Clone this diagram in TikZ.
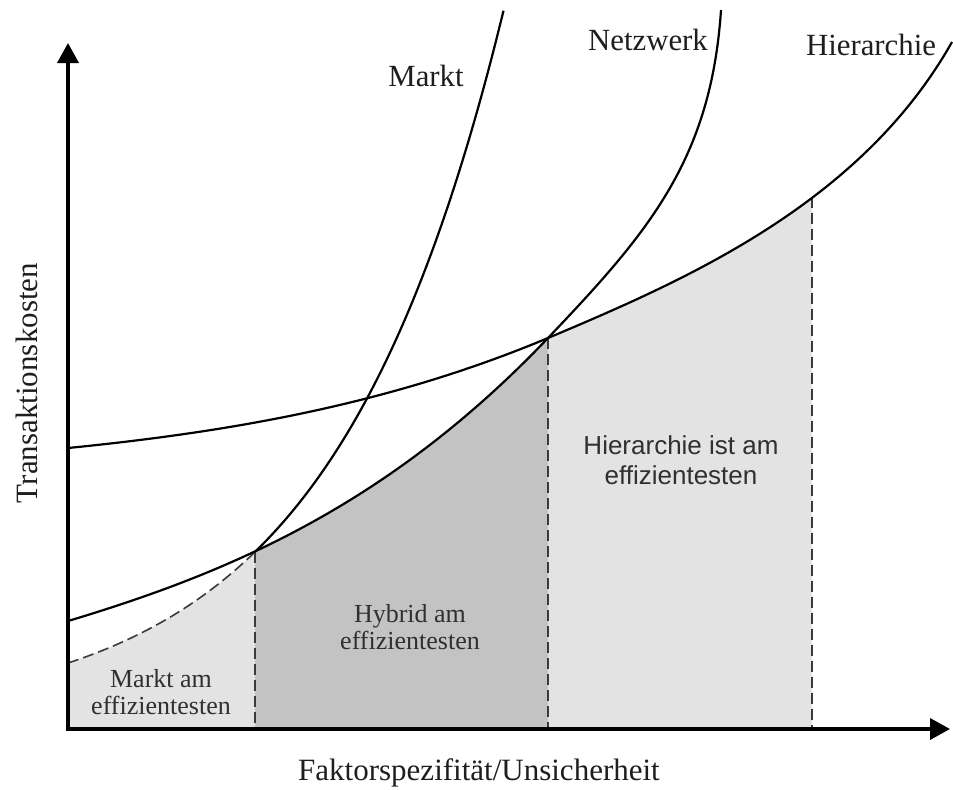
\documentclass[tikz,border=0pt]{standalone}
\usepackage{fontspec}
\setmainfont{Liberation Serif}
\newfontfamily\arialfont{Liberation Sans}
\usetikzlibrary{arrows.meta}

\definecolor{lightregion}{HTML}{E3E3E3}
\definecolor{darkregion}{HTML}{C3C3C3}
\definecolor{inktext}{HTML}{1E1E1E}
\definecolor{areatext}{HTML}{303030}
\definecolor{dashgray}{HTML}{3A3A3A}

% cost curves (pixel-like units, y grows downwards)
\newcommand\hierCurve{(68,448) .. controls (228,432) and (388,405) .. (548,338)
                      .. controls (683,281) and (860,205) .. (952,42)}
\newcommand\netzCurve{(68,621) .. controls (228,573) and (388,506) .. (548,338)
                      .. controls (648,233) and (711,160) .. (721,10)}
\newcommand\marktFn[1]{{719.76-56.76*exp(0.0058*(#1-68))}}

\begin{document}
\begin{tikzpicture}[x=0.5pt,y=-0.5pt,
  curve/.style={line width=1.1pt,black},
  axis/.style={line width=1.8pt,black,{Triangle[width=10.5pt,length=10pt]}-{Triangle[width=10.5pt,length=10pt]}},
  dashline/.style={line width=0.8pt,dashgray,dash pattern=on 5.5pt off 2.5pt},
  curvelabel/.style={font=\fontsize{15.4}{18}\selectfont,text=inktext,anchor=base,inner sep=0pt},
  axislabel/.style={font=\fontsize{15.5}{18}\selectfont,text=inktext,anchor=base,inner sep=0pt},
  arealabel/.style={font=\fontsize{13}{13.5}\selectfont,text=areatext,align=center,inner sep=0pt},
  arealabelsans/.style={font=\arialfont\fontsize{13}{15}\selectfont,text=areatext,align=center,inner sep=0pt}]
\useasboundingbox (0,0) rectangle (953,789);

\coordinate (O) at (68,729);
\coordinate (ytip) at (68,43);
\coordinate (xtip) at (950,729);
\coordinate (mn) at (255,551.5);
\coordinate (nh) at (548,338);
\coordinate (hend) at (812,197);

% regions of lowest cost
\fill[lightregion] plot[domain=68:255,samples=40] (\x,\marktFn{\x}) -- (mn |- O) -- (O) -- cycle;
\begin{scope}
  \clip (255,0) rectangle (548,729);
  \fill[darkregion] \netzCurve -- (721,729) -- (68,729) -- cycle;
\end{scope}
\begin{scope}
  \clip (548,0) rectangle (812,729);
  \fill[lightregion] \hierCurve -- (952,729) -- (68,729) -- cycle;
\end{scope}

% boundaries between the regions
\draw[dashline] (mn) -- (mn |- O);
\draw[dashline] (nh) -- (nh |- O);
\draw[dashline] (hend) -- (hend |- O);
\draw[dashline] plot[domain=68:255,samples=40] (\x,\marktFn{\x});

% curves
\draw[curve] \hierCurve;
\draw[curve] \netzCurve;
\draw[curve] plot[domain=255:503.5,samples=80] (\x,\marktFn{\x});

% axes
\draw[axis] (ytip) -- (O) -- (xtip);

% labels
\node[curvelabel] (lmarkt) at (426,86) {Markt};
\node[curvelabel] (lnetz) at (648,50) {Netzwerk};
\node[curvelabel] (lhier) at (871,55) {Hierarchie};
\node[axislabel] (lx) at (479,780) {Faktorspezifität/Unsicherheit};
\node[axislabel,rotate=90] (ly) at (37,383) {Transaktionskosten};

\node[arealabel] (amarkt) at (161,692) {Markt am\\effizientesten};
\node[arealabel] (ahybrid) at (410,627) {Hybrid am\\effizientesten};
\node[arealabelsans] (ahier) at (681,460) {Hierarchie ist am\\effizientesten};
\end{tikzpicture}
\end{document}
